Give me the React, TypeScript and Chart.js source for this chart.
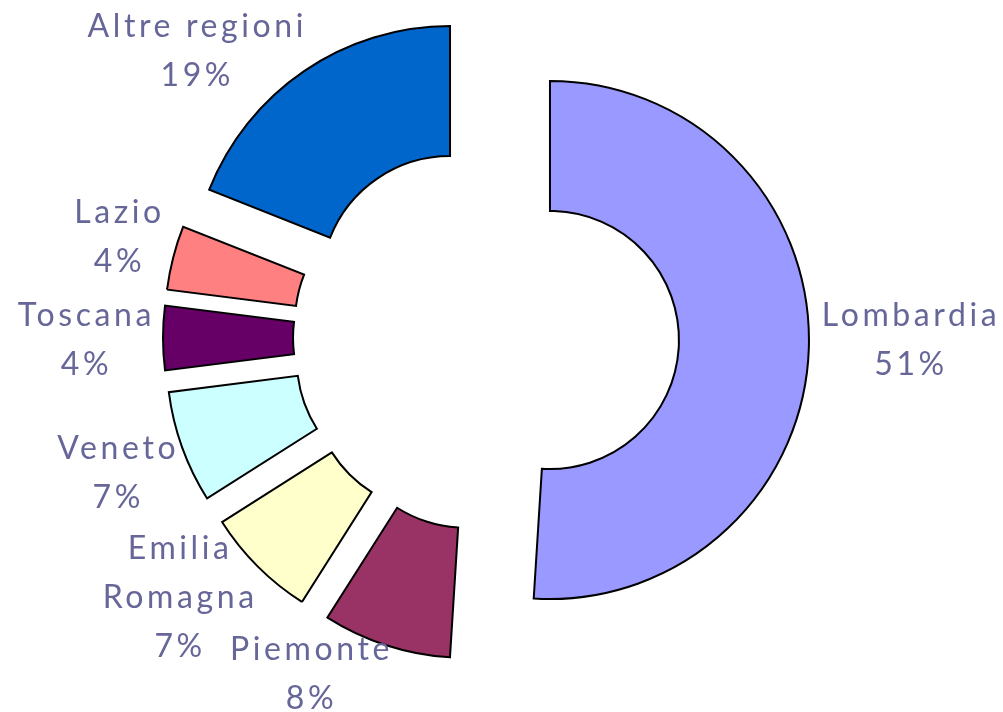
import React, { useEffect, useRef } from 'react';
import { Chart, registerables } from 'chart.js';

Chart.register(...registerables);

// ---- data ----
const regions = ['Lombardia', 'Piemonte', 'Emilia Romagna', 'Veneto', 'Toscana', 'Lazio', 'Altre regioni'];
const shares = [51, 8, 7, 7, 4, 4, 19];
const sliceColors = ['#9999FF', '#993366', '#FFFFCC', '#CCFFFF', '#660066', '#FF8080', '#0066CC'];

// ---- layout / style ----
const W = 1003;
const H = 712;
const CENTER_X = 486;
const CENTER_Y = 338;
const OUTER_R = 259;
const CUTOUT = '49.8%';
const EXPLODE_PX = 64;
const LABEL_FONT_SIZE = 32;
const LABEL_FONT = `${LABEL_FONT_SIZE}px Lato`;
const LABEL_SPACING = '3.6px';
const LABEL_COLOR = '#666699';
const LINE_H = 49;
const LABEL_GAP = 8;
const MAX_LABEL_W = 245;
// small manual placement tweaks (px) of the text blocks, as in the original
const labelNudge: [number, number][] = [
  [5, -11],
  [-47, -26],
  [-17, -28],
  [1, 5],
  [0, 1],
  [-2, -8],
  [-41, 26],
];

function wrapText(ctx: CanvasRenderingContext2D, text: string, maxW: number): string[] {
  const words = text.split(' ');
  const lines: string[] = [];
  let cur = '';
  for (const w of words) {
    const test = cur ? cur + ' ' + w : w;
    if (cur && ctx.measureText(test).width > maxW) {
      lines.push(cur);
      cur = w;
    } else {
      cur = test;
    }
  }
  if (cur) lines.push(cur);
  return lines;
}

// Chart.js translates an exploded arc by offset/4, but also grows its radii and trims
// its angles; undo those two side effects so that slices keep their true shape.
const explodeFix = {
  id: 'explodeFix',
  afterDatasetsUpdate(chart: any) {
    chart.getSortedVisibleDatasetMetas().forEach((meta: any) => {
      meta.data.forEach((arc: any) => {
        const off = ((arc.options && arc.options.offset) || 0) / 4;
        const fix = 1 - Math.sin(Math.min(Math.PI, arc.circumference || 0));
        const rOff = off * fix;
        const drawnOuter = arc.outerRadius; // radius used when drawing after compensation
        arc.outerRadius -= rOff;
        arc.innerRadius -= rOff;
        const trim = rOff / Math.PI / (2 * drawnOuter);
        arc.startAngle -= trim;
        arc.endAngle += trim;
      });
    });
  },
};

const sliceLabels = {
  id: 'sliceLabels',
  afterDatasetsDraw(chart: any) {
    const meta = chart.getDatasetMeta(0);
    const ctx: CanvasRenderingContext2D = chart.ctx;
    const R = meta.controller.outerRadius;
    const values: number[] = chart.data.datasets[0].data;
    const total = values.reduce((a, b) => a + b, 0);
    ctx.save();
    ctx.font = LABEL_FONT;
    (ctx as any).letterSpacing = LABEL_SPACING;
    ctx.fillStyle = LABEL_COLOR;
    ctx.textAlign = 'center';
    ctx.textBaseline = 'alphabetic';
    const capH = LABEL_FONT_SIZE * 0.72;
    meta.data.forEach((arc: any, i: number) => {
      const p = arc.getProps(['x', 'y', 'startAngle', 'endAngle'], true);
      const half = (p.startAngle + p.endAngle) / 2;
      const off = ((arc.options && arc.options.offset) || 0) / 4;
      const ux = Math.cos(half);
      const uy = Math.sin(half);
      const cx = p.x + ux * off;
      const cy = p.y + uy * off;
      const lines = wrapText(ctx, chart.data.labels[i], MAX_LABEL_W);
      lines.push(Math.round((values[i] / total) * 100) + '%');
      const w = Math.max(...lines.map((l) => ctx.measureText(l).width));
      const h = lines.length * LINE_H;
      const ax = cx + ux * (R + LABEL_GAP);
      const ay = cy + uy * (R + LABEL_GAP);
      const bx = ax + (ux * w) / 2 + labelNudge[i][0];
      const by = ay + (uy * h) / 2 + labelNudge[i][1];
      lines.forEach((l, k) => {
        const lineCenter = by - h / 2 + LINE_H * (k + 0.5);
        ctx.fillText(l, bx, lineCenter + capH / 2);
      });
    });
    ctx.restore();
  },
};

export default function App() {
  const ref = useRef<HTMLCanvasElement | null>(null);
  useEffect(() => {
    if (!ref.current) return;
    const chart = new Chart(ref.current, {
      type: 'doughnut',
      data: {
        labels: regions,
        datasets: [
          {
            data: shares,
            backgroundColor: sliceColors,
            borderColor: '#000000',
            borderWidth: 2,
            borderJoinStyle: 'miter',
            offset: EXPLODE_PX * 4,
            hoverOffset: 0,
          } as any,
        ],
      },
      options: {
        responsive: false,
        animation: false,
        events: [],
        radius: OUTER_R,
        cutout: CUTOUT,
        layout: {
          padding: { left: 0, top: 0, right: W - 2 * CENTER_X, bottom: H - 2 * CENTER_Y },
        },
        plugins: {
          legend: { display: false },
          tooltip: { enabled: false },
          title: { display: false },
        },
      } as any,
      plugins: [explodeFix, sliceLabels],
    });
    return () => chart.destroy();
  }, []);
  return (
    <div style={{ position: 'absolute', left: 0, top: 0, width: W, height: H, background: '#ffffff' }}>
      <canvas ref={ref} width={W} height={H} style={{ display: 'block', width: W, height: H }} />
    </div>
  );
}
